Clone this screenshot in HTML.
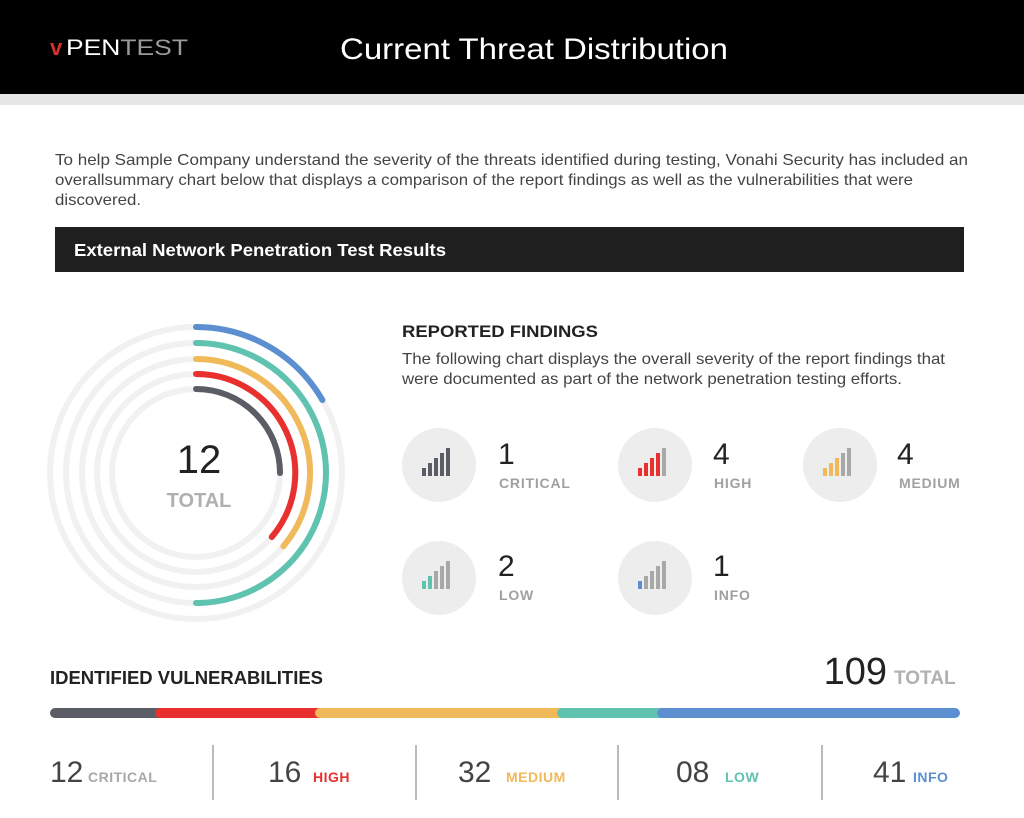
<!DOCTYPE html>
<html><head><meta charset="utf-8"><style>
body{margin:0;background:#fff;width:1024px;height:818px;overflow:hidden;font-family:"Liberation Sans",Arial,sans-serif}
svg{display:block}
</style></head><body>
<svg width="1024" height="818" viewBox="0 0 1024 818" font-family="Liberation Sans, Arial, sans-serif">
<rect x="0" y="0" width="1024" height="94" fill="#000"/>
<rect x="0" y="94" width="1024" height="11" fill="#e6e6e6"/>
<text x="50" y="55" font-size="22" fill="#d9302c" font-weight="bold">v</text>
<text x="66" y="55" font-size="22" fill="#fff" textLength="122" lengthAdjust="spacingAndGlyphs">PEN<tspan fill="#9a9a9a">TEST</tspan></text>
<text x="340" y="59" font-size="30" fill="#fff" textLength="388" lengthAdjust="spacingAndGlyphs">Current Threat Distribution</text>
<g font-size="16" fill="#444">
<text x="55" y="165" textLength="913" lengthAdjust="spacingAndGlyphs">To help Sample Company understand the severity of the threats identified during testing, Vonahi Security has included an</text>
<text x="55" y="185" textLength="858" lengthAdjust="spacingAndGlyphs">overallsummary chart below that displays a comparison of the report findings as well as the vulnerabilities that were</text>
<text x="55" y="205" textLength="86" lengthAdjust="spacingAndGlyphs">discovered.</text>
</g>
<rect x="55" y="227" width="909" height="45" fill="#1f1f1f"/>
<text x="74" y="256" font-size="17.5" font-weight="bold" fill="#fff" textLength="372" lengthAdjust="spacingAndGlyphs">External Network Penetration Test Results</text>
<g fill="none" stroke="#f1f1f1" stroke-width="6">
<circle cx="196" cy="473" r="146"/><circle cx="196" cy="473" r="130"/><circle cx="196" cy="473" r="114"/><circle cx="196" cy="473" r="99"/><circle cx="196" cy="473" r="84"/>
</g>
<g fill="none" stroke-width="6" stroke-linecap="round">
<path d="M196 327 A146 146 0 0 1 322.4 400" stroke="#5b8fcf"/>
<path d="M196 343 A130 130 0 0 1 196 603" stroke="#5fc3b0"/>
<path d="M196 359 A114 114 0 0 1 283.3 546.3" stroke="#f0b95a"/>
<path d="M196 374 A99 99 0 0 1 271.8 537" stroke="#e8302f"/>
<path d="M196 389 A84 84 0 0 1 280 473" stroke="#5a5c66"/>
</g>
<text x="199" y="473" font-size="40" fill="#222" text-anchor="middle">12</text>
<text x="199" y="507" font-size="20" font-weight="bold" fill="#b0b0b0" text-anchor="middle">TOTAL</text>
<text x="402" y="337" font-size="17" font-weight="bold" fill="#222" textLength="196" lengthAdjust="spacingAndGlyphs">REPORTED FINDINGS</text>
<text x="402" y="364" font-size="16" fill="#444" textLength="543" lengthAdjust="spacingAndGlyphs">The following chart displays the overall severity of the report findings that</text>
<text x="402" y="384" font-size="16" fill="#444" textLength="500" lengthAdjust="spacingAndGlyphs">were documented as part of the network penetration testing efforts.</text>
<g fill="#ededed"><circle cx="439" cy="465" r="37"/><circle cx="655" cy="465" r="37"/><circle cx="840" cy="465" r="37"/><circle cx="439" cy="578" r="37"/><circle cx="655" cy="578" r="37"/></g>
<g>
<g transform="translate(422,448)"><rect x="0" y="20" width="4" height="8" fill="#5a5c66"/><rect x="6" y="15" width="4" height="13" fill="#5a5c66"/><rect x="12" y="10" width="4" height="18" fill="#5a5c66"/><rect x="18" y="5" width="4" height="23" fill="#5a5c66"/><rect x="24" y="0" width="4" height="28" fill="#5a5c66"/></g>
<g transform="translate(638,448)"><rect x="0" y="20" width="4" height="8" fill="#e8302f"/><rect x="6" y="15" width="4" height="13" fill="#e8302f"/><rect x="12" y="10" width="4" height="18" fill="#e8302f"/><rect x="18" y="5" width="4" height="23" fill="#e8302f"/><rect x="24" y="0" width="4" height="28" fill="#a8a8a8"/></g>
<g transform="translate(823,448)"><rect x="0" y="20" width="4" height="8" fill="#f0b95a"/><rect x="6" y="15" width="4" height="13" fill="#f0b95a"/><rect x="12" y="10" width="4" height="18" fill="#f0b95a"/><rect x="18" y="5" width="4" height="23" fill="#a8a8a8"/><rect x="24" y="0" width="4" height="28" fill="#a8a8a8"/></g>
<g transform="translate(422,561)"><rect x="0" y="20" width="4" height="8" fill="#5fc3b0"/><rect x="6" y="15" width="4" height="13" fill="#5fc3b0"/><rect x="12" y="10" width="4" height="18" fill="#a8a8a8"/><rect x="18" y="5" width="4" height="23" fill="#a8a8a8"/><rect x="24" y="0" width="4" height="28" fill="#a8a8a8"/></g>
<g transform="translate(638,561)"><rect x="0" y="20" width="4" height="8" fill="#5b8fcf"/><rect x="6" y="15" width="4" height="13" fill="#a8a8a8"/><rect x="12" y="10" width="4" height="18" fill="#a8a8a8"/><rect x="18" y="5" width="4" height="23" fill="#a8a8a8"/><rect x="24" y="0" width="4" height="28" fill="#a8a8a8"/></g>
</g>
<g font-size="30" fill="#222"><text x="498" y="464">1</text><text x="713" y="464">4</text><text x="897" y="464">4</text><text x="498" y="576">2</text><text x="713" y="576">1</text></g>
<g font-size="14" font-weight="bold" fill="#a0a0a0" letter-spacing="0.8"><text x="499" y="488">CRITICAL</text><text x="714" y="488">HIGH</text><text x="899" y="488">MEDIUM</text><text x="499" y="600">LOW</text><text x="714" y="600">INFO</text></g>
<text x="50" y="684" font-size="18" font-weight="bold" fill="#222" textLength="273" lengthAdjust="spacingAndGlyphs">IDENTIFIED VULNERABILITIES</text>
<text x="887" y="684" font-size="38" fill="#222" text-anchor="end">109</text>
<text x="894" y="684" font-size="19" font-weight="bold" fill="#b0b0b0">TOTAL</text>
<g stroke-width="10" stroke-linecap="round">
<line x1="55" y1="713" x2="160" y2="713" stroke="#5a5c66"/>
<line x1="160" y1="713" x2="320" y2="713" stroke="#e8302f"/>
<line x1="320" y1="713" x2="562" y2="713" stroke="#f0b95a"/>
<line x1="562" y1="713" x2="662" y2="713" stroke="#5fc3b0"/>
<line x1="662" y1="713" x2="955" y2="713" stroke="#5b8fcf"/>
</g>
<g stroke="#bbb" stroke-width="2"><line x1="213" y1="745" x2="213" y2="800"/><line x1="416" y1="745" x2="416" y2="800"/><line x1="618" y1="745" x2="618" y2="800"/><line x1="822" y1="745" x2="822" y2="800"/></g>
<g font-size="30" fill="#444"><text x="50" y="782">12</text><text x="268" y="782">16</text><text x="458" y="782">32</text><text x="676" y="782">08</text><text x="873" y="782">41</text></g>
<g font-size="14" font-weight="bold" letter-spacing="0.5"><text x="88" y="782" fill="#a8a8a8">CRITICAL</text><text x="313" y="782" fill="#e8302f">HIGH</text><text x="506" y="782" fill="#f0b95a">MEDIUM</text><text x="725" y="782" fill="#5fc3b0">LOW</text><text x="913" y="782" fill="#5b8fcf">INFO</text></g>
</svg>
</body></html>
